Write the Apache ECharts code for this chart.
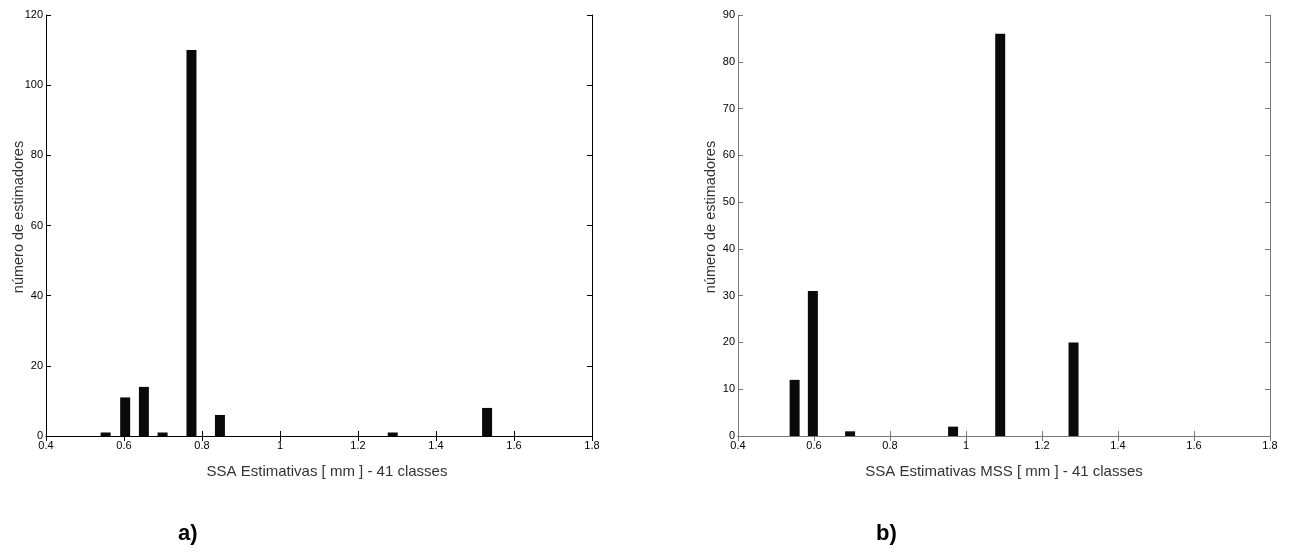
<!DOCTYPE html>
<html>
<head>
<meta charset="utf-8">
<script src="https://cdn.jsdelivr.net/npm/echarts@6/dist/echarts.min.js"></script>
<style>
html, body { margin: 0; padding: 0; background: #fff; }
#chart { width: 1293px; height: 552px; }
</style>
</head>
<body>
<div id="chart"></div>
<script>
// histograma a) SSA
var centersA = [0.553, 0.603, 0.651, 0.699, 0.773, 0.846, 1.289, 1.531];
var countsA = [1, 11, 14, 1, 110, 6, 1, 8];
// histograma b) SSA MSS
var centersB = [0.549, 0.597, 0.695, 0.966, 1.090, 1.283];
var countsB = [12, 31, 1, 2, 86, 20];

var xTicks = [0.4, 0.6, 0.8, 1, 1.2, 1.4, 1.6, 1.8];
var labelA = 'SSA Estimativas [ mm ] - 41 classes';
var labelB = 'SSA Estimativas MSS [ mm ] - 41 classes';
var yLabel = 'número de estimadores';

var font = 'Liberation Sans, Arial, sans-serif';

function pairs(xs, ys) {
    var out = [];
    for (var i = 0; i < xs.length; i++) {
        out.push([xs[i], ys[i]]);
    }
    return out;
}

function xAxisFor(grid, name, color, top, shift) {
    return {
        type: 'value',
        gridIndex: grid,
        position: top ? 'top' : 'bottom',
        min: xTicks[0],
        max: xTicks[xTicks.length - 1],
        interval: 0.2,
        name: top ? '' : name,
        nameLocation: 'middle',
        nameGap: 28,
        nameTextStyle: { color: '#333', fontSize: 15, fontFamily: font, padding: [0, 0, 0, shift || 0] },
        axisLine: { show: true, lineStyle: { color: color, width: 1 } },
        axisTick: { show: true, inside: true, length: 5, lineStyle: { color: color } },
        axisLabel: {
            show: !top,
            color: '#000',
            fontSize: 11,
            fontFamily: font,
            margin: 4,
            formatter: function (v) { return String(Math.round(v * 10) / 10); }
        },
        splitLine: { show: false }
    };
}

function yAxisFor(grid, max, step, color, right) {
    return {
        type: 'value',
        gridIndex: grid,
        position: right ? 'right' : 'left',
        min: 0,
        max: max,
        interval: step,
        axisLine: { show: true, lineStyle: { color: color, width: 1 } },
        axisTick: { show: true, inside: true, length: 5, lineStyle: { color: color } },
        axisLabel: {
            show: !right,
            color: '#000',
            fontSize: 11,
            fontFamily: font,
            margin: 3
        },
        splitLine: { show: false }
    };
}

var option = {
    animation: false,
    backgroundColor: '#fff',
    grid: [
        { left: 46, right: 701, top: 15, bottom: 116, containLabel: false },
        { left: 738, right: 23, top: 15, bottom: 116, containLabel: false }
    ],
    xAxis: [
        xAxisFor(0, labelA, '#000', false, 16),
        xAxisFor(0, labelA, '#000', true),
        xAxisFor(1, labelB, '#777', false),
        xAxisFor(1, labelB, '#777', true)
    ],
    yAxis: [
        yAxisFor(0, 120, 20, '#000', false),
        yAxisFor(0, 120, 20, '#000', true),
        yAxisFor(1, 90, 10, '#777', false),
        yAxisFor(1, 90, 10, '#777', true)
    ],
    series: [{
        type: 'bar',
        xAxisIndex: 0,
        yAxisIndex: 0,
        barWidth: 10,
        itemStyle: { color: '#0a0a0a' },
        data: pairs(centersA, countsA)
    }, {
        type: 'bar',
        xAxisIndex: 2,
        yAxisIndex: 2,
        barWidth: 10,
        itemStyle: { color: '#0a0a0a' },
        data: pairs(centersB, countsB)
    }],
    graphic: [{
        type: 'text',
        x: 19,
        y: 217,
        rotation: Math.PI / 2,
        style: { text: yLabel, fill: '#333', font: '14.5px ' + font, textAlign: 'center', textVerticalAlign: 'middle' }
    }, {
        type: 'text',
        x: 711,
        y: 217,
        rotation: Math.PI / 2,
        style: { text: yLabel, fill: '#333', font: '14.5px ' + font, textAlign: 'center', textVerticalAlign: 'middle' }
    }, {
        type: 'text',
        left: 178,
        top: 523,
        style: { text: 'a)', fill: '#000', font: 'bold 22px ' + font }
    }, {
        type: 'text',
        left: 876,
        top: 523,
        style: { text: 'b)', fill: '#000', font: 'bold 22px ' + font }
    }]
};

var myChart = echarts.init(document.getElementById('chart'));
myChart.setOption(option);
</script>
</body>
</html>
